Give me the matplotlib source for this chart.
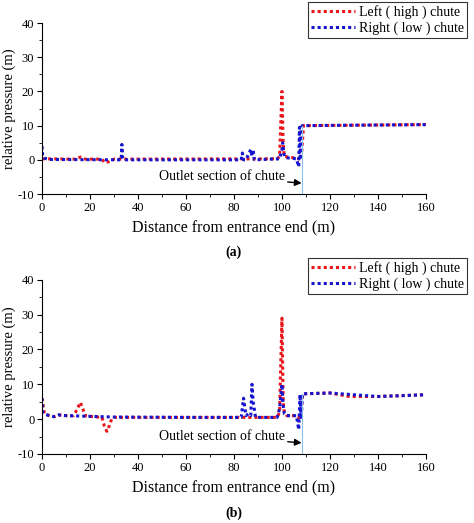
import matplotlib.pyplot as plt
from matplotlib.ticker import MultipleLocator

plt.rcParams['font.family'] = ['Liberation Serif', 'DejaVu Serif']
plt.rcParams['axes.unicode_minus'] = False

# panel (a)
left_a_x = [0, 14, 16, 18, 25, 26, 28, 30, 98, 99, 100, 100.5, 101, 106, 107, 108, 109, 110, 160]
left_a_y = [0.3, 0.2, 0.8, 0.2, 0.2, -0.8, -0.5, 0.2, 0.3, 1, 20, 5, 1, 0.5, 0.3, 0, 10, 10, 10.3]
right_a_x = [0, 0.3, 1, 3, 33, 33.3, 33.6, 34, 83, 83.5, 84, 85, 87, 87.5, 88, 88.5, 99, 100,
             100.3, 101, 102, 106, 107, 107.3, 107.6, 108, 108.5, 110, 160]
right_a_y = [4, 1, 0.5, 0.1, 0, 4.5, 0.5, 0, 0, 2, 0, 0, 3, 1, 3, 0, 0.3, 3,
             5, 1, 0.6, 0.3, -2, 9.5, 0, 9.5, 10, 10, 10.3]

# panel (b)
left_b_x = [0, 1, 3, 5, 7, 10, 13, 14, 16, 17, 18, 20, 25, 26, 27, 28, 29, 30, 60, 98, 99, 100,
            100.5, 101, 102, 106, 107, 108, 108.5, 110, 120, 128, 140, 160]
left_b_y = [6, 1.5, 1, 0.7, 1.2, 1, 1, 2, 4.8, 3, 1, 0.8, 0.5, -2, -3.5, -2, 0, 0.5, 0.5, 0.5, 2, 29,
            5, 2, 1, 1, 0.5, 0, 7, 7.3, 7.5, 6.5, 6.5, 7]
right_b_x = [0, 0.3, 1, 3, 5, 7, 10, 20, 30, 60, 83, 84, 85, 86, 87, 87.5, 88, 89, 98, 99, 100,
             100.5, 101, 102, 106, 107, 107.5, 108, 108.5, 110, 120, 130, 140, 160]
right_b_y = [6, 2, 1.5, 1, 0.7, 1.2, 1, 0.8, 0.6, 0.5, 0.5, 6, 1, 1.5, 1, 10, 5, 0.5, 0.5, 3, 10,
             4, 1.5, 1, 1, -3, 7, 0, 7.3, 7.3, 7.5, 7, 6.5, 7]

outlet_x = 108.5
outlet_top = [10, 7.3]

panels = [
    (left_a_x, left_a_y, right_a_x, right_a_y, "(a)", [0.0886, 0.629, 0.81, 0.327]),
    (left_b_x, left_b_y, right_b_x, right_b_y, "(b)", [0.0886, 0.132, 0.81, 0.333]),
]

fig = plt.figure(figsize=(4.74, 5.23), dpi=100)
for k, (lx, ly, rx, ry, tag, pos) in enumerate(panels):
    ax = fig.add_axes(pos)
    ax.plot(lx, ly, color='#e8161b', ls=(0, (1, 1)), lw=2.2, label='Left ( high ) chute')
    ax.plot(rx, ry, color='#1515d0', ls=(0, (1, 1)), lw=2.2, label='Right ( low ) chute')
    ax.plot([outlet_x, outlet_x], [-10, outlet_top[k]], color='#8cc0e8', lw=0.8)
    ax.annotate('Outlet section of chute', xy=(108.2, -6.8), xytext=(75, -5),
                ha='center', va='center', fontsize=10,
                arrowprops=dict(arrowstyle='-|>', color='black', lw=1, shrinkA=0, shrinkB=0))
    ax.set_xlim(0, 160)
    ax.set_ylim(-10, 40)
    ax.xaxis.set_major_locator(MultipleLocator(20))
    ax.xaxis.set_minor_locator(MultipleLocator(10))
    ax.yaxis.set_major_locator(MultipleLocator(10))
    ax.yaxis.set_minor_locator(MultipleLocator(5))
    ax.spines['top'].set_visible(False)
    ax.spines['right'].set_visible(False)
    ax.tick_params(labelsize=9, pad=2)
    ax.set_xlabel('Distance from entrance end (m)', fontsize=11.5)
    ax.set_ylabel('relative pressure (m)', fontsize=10.5, labelpad=1)
    ax.text(0.5, -0.36, tag, transform=ax.transAxes, ha='center', fontsize=10, fontweight='bold')
    top_px = 2 if k == 0 else 258
    leg = ax.legend(loc='upper right', bbox_to_anchor=(467 / 474, 1 - top_px / 523),
                    bbox_transform=fig.transFigure, fontsize=10, frameon=True, fancybox=False,
                    borderpad=0.2, handlelength=3.2, handletextpad=0.3, labelspacing=0.2,
                    borderaxespad=0)
    leg.get_frame().set_edgecolor('black')
    leg.get_frame().set_linewidth(0.8)

fig.savefig('out.png', dpi=100)
